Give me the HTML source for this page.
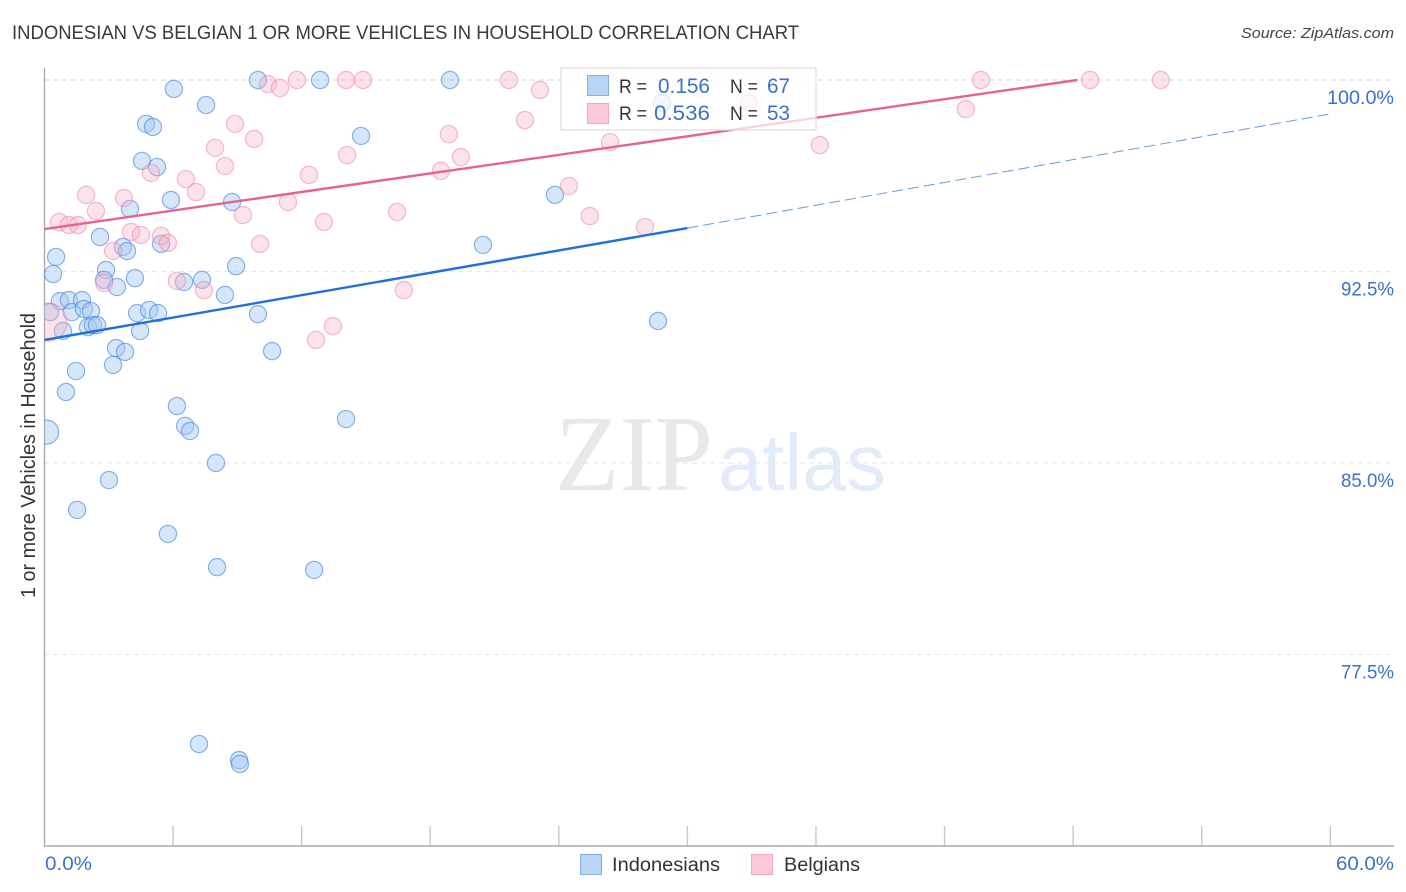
<!DOCTYPE html>
<html lang="en">
<head>
<meta charset="utf-8">
<title>Indonesian vs Belgian chart</title>
<style>
html,body{margin:0;padding:0;background:#fff;}
body{width:1406px;height:892px;overflow:hidden;}
svg{display:block;font-family:"Liberation Sans",sans-serif;}
</style>
</head>
<body>
<svg id="chart" width="1406" height="892" viewBox="0 0 1406 892" xmlns="http://www.w3.org/2000/svg">
  <defs>
    <clipPath id="plot-clip"><rect x="44.5" y="60" width="1350" height="786"/></clipPath>
  </defs>
  <rect x="0" y="0" width="1406" height="892" fill="#ffffff"/>
  <text x="12" y="39" font-size="19" fill="#3a3a3a" textLength="787" lengthAdjust="spacingAndGlyphs">INDONESIAN VS BELGIAN 1 OR MORE VEHICLES IN HOUSEHOLD CORRELATION CHART</text>
  <text x="1241" y="38" font-size="15" font-style="italic" fill="#444" textLength="153" lengthAdjust="spacingAndGlyphs">Source: ZipAtlas.com</text>
  <g>
    <text x="555" y="490" font-family="'Liberation Serif',serif" font-size="108" fill="#e8e8e8" textLength="158" lengthAdjust="spacingAndGlyphs">ZIP</text>
    <text x="718" y="490" font-size="80" fill="#e2ebf9" textLength="168" lengthAdjust="spacingAndGlyphs">atlas</text>
  </g>
  <g id="grid"></g>
  <g id="axes"></g>
  <g id="ylabels"></g>
  <g id="xlabels"></g>
  <g id="blue-points" clip-path="url(#plot-clip)"></g>
  <g id="pink-points" clip-path="url(#plot-clip)"></g>
  <g id="lines"></g>
  <text transform="translate(35,598) rotate(-90)" font-size="20" fill="#333" textLength="285" lengthAdjust="spacingAndGlyphs">1 or more Vehicles in Household</text>
  <g>
    <rect x="561" y="68" width="255" height="62" fill="#ffffff" fill-opacity="0.72" stroke="#dddddd" stroke-width="1.2"/>
    <rect x="587.5" y="75.5" width="21" height="20" fill="#b9d4f7" stroke="#82b0e8" stroke-width="1"/>
    <rect x="587.5" y="103.5" width="21" height="20" fill="#fbc8d8" stroke="#f2a6bf" stroke-width="1"/>
    <text x="619" y="93" font-size="19" fill="#333" textLength="28" lengthAdjust="spacingAndGlyphs">R =</text>
    <text x="658" y="93" font-size="21" fill="#3b6fd1" textLength="52" lengthAdjust="spacingAndGlyphs">0.156</text>
    <text x="730" y="93" font-size="19" fill="#333" textLength="28" lengthAdjust="spacingAndGlyphs">N =</text>
    <text x="767" y="93" font-size="21" fill="#3b6fd1" textLength="23" lengthAdjust="spacingAndGlyphs">67</text>
    <text x="619" y="120" font-size="19" fill="#333" textLength="28" lengthAdjust="spacingAndGlyphs">R =</text>
    <text x="654" y="120" font-size="21" fill="#3b6fd1" textLength="56" lengthAdjust="spacingAndGlyphs">0.536</text>
    <text x="730" y="120" font-size="19" fill="#333" textLength="28" lengthAdjust="spacingAndGlyphs">N =</text>
    <text x="767" y="120" font-size="21" fill="#3b6fd1" textLength="23" lengthAdjust="spacingAndGlyphs">53</text>
  </g>
  <g>
    <rect x="580.5" y="854.5" width="21" height="20" fill="#b9d4f7" stroke="#82b0e8" stroke-width="1"/>
    <text x="612" y="871" font-size="19" fill="#333" textLength="108" lengthAdjust="spacingAndGlyphs">Indonesians</text>
    <rect x="751.5" y="854.5" width="21" height="20" fill="#fbc8d8" stroke="#f2a6bf" stroke-width="1"/>
    <text x="784" y="871" font-size="19" fill="#333" textLength="76" lengthAdjust="spacingAndGlyphs">Belgians</text>
  </g>
</svg>
<script>
var blueX = [6.04,7.54,9.96,12.86,18.92,4.74,5.06,4.55,5.25,5.90,8.75,3.99,2.59,3.66,3.85,5.44,0.54,0.40,2.87,2.78,3.38,4.22,6.51,7.35,8.94,8.42,0.72,1.14,1.75,1.28,1.84,2.17,2.03,2.26,2.45,4.32,4.88,5.30,4.46,0.86,0.26,9.96,10.62,3.34,3.76,3.20,1.47,1.00,6.18,6.56,6.79,14.07,0.10,8.00,3.01,1.52,5.76,8.05,12.58,7.21,9.08,9.12,14.77,23.82,20.46,28.63,28.82];
var blueY = [99.65,99.02,100,100,100,98.28,98.16,96.83,96.59,95.30,95.22,94.95,93.85,93.46,93.30,93.58,93.07,92.40,92.56,92.17,91.89,92.24,92.09,92.17,92.71,91.58,91.34,91.38,91.38,90.91,91.03,90.95,90.32,90.40,90.40,90.87,90.99,90.87,90.17,90.17,90.91,90.83,89.38,89.50,89.35,88.84,88.60,87.78,87.23,86.45,86.25,86.72,86.21,85.00,84.33,83.16,82.22,80.92,80.81,73.99,73.36,73.21,97.81,95.50,93.54,90.56,99.10];
var blueSizes = {52:1.4};
var pinkX = [0.16,10.43,10.99,11.78,14.07,14.86,21.67,43.70,48.79,52.09,23.12,22.42,8.89,9.78,7.96,8.42,4.97,6.60,7.07,1.94,2.40,3.71,0.68,1.14,1.56,4.04,4.50,5.44,5.76,3.20,9.26,10.06,11.36,12.34,14.12,13.04,16.45,18.87,19.43,18.50,24.47,25.45,26.39,28.02,32.87,36.18,42.99,16.77,13.46,12.67,6.18,7.44,2.78];
var pinkY = [90.52,99.84,99.69,100,100,100,100,100,100,100,99.61,98.43,98.28,97.69,97.34,96.63,96.36,96.12,95.61,95.50,94.87,95.38,94.44,94.32,94.32,94.05,93.93,93.89,93.62,93.30,94.71,93.58,95.22,96.28,97.06,94.44,94.83,97.88,96.98,96.44,95.85,94.67,97.57,94.24,99.10,97.45,98.86,91.77,90.36,89.82,92.13,91.77,92.05];
var pinkSizes = {0:2.2};
var blueSolidX = [0,30];
var blueSolidY = [89.82,94.2];
var blueDashX = [30,60];
var blueDashY = [94.2,98.67];
var pinkLineX = [0,48.2];
var pinkLineY = [94.16,100];
var yTicks = [100,92.5,85,77.5];
var yTickLabels = ["100.0%","92.5%","85.0%","77.5%"];
var xTicks = [0,6,12,18,24,30,36,42,48,54,60];
var xEndLabels = ["0.0%","60.0%"];

var NS = "http://www.w3.org/2000/svg";
function sx(v){ return 44.5 + v * 21.43; }
function sy(v){ return 80 + (100 - v) * 25.53; }
function mk(parentId, tag, attrs){
  var el = document.createElementNS(NS, tag);
  for (var k in attrs) el.setAttribute(k, attrs[k]);
  document.getElementById(parentId).appendChild(el);
  return el;
}

yTicks.forEach(function(t, i){
  var g = mk("grid", "line", {x1:44, x2:1394, y1:sy(t), y2:sy(t), stroke: i===0 ? "#d4d4d4" : "#e6e6e6", "stroke-width":1, "stroke-dasharray":"5 4"});
  
  
  var lab = mk("ylabels", "text", {x:1394, y:sy(t)+24, "text-anchor":"end", "font-size":19, fill:"#3b6fd1"});
  
  
  lab.textContent = yTickLabels[i];
  lab.setAttribute("textLength", i===0 ? 67 : 53);
  lab.setAttribute("lengthAdjust", "spacingAndGlyphs");
});

xTicks.forEach(function(t){
  if (t === 0) return;
  var tk = mk("axes", "line", {x1:sx(t), x2:sx(t), y1:826, y2:846, stroke:"#c8c8c8", "stroke-width":1.4});
  
  
});
var ya = mk("axes", "line", {x1:44.5, x2:44.5, y1:68, y2:846, stroke:"#aaaaaa", "stroke-width":1.4});


var xa = mk("axes", "line", {x1:44, x2:1394, y1:846, y2:846, stroke:"#aaaaaa", "stroke-width":1.4});



var x0 = mk("xlabels", "text", {x:45, y:870, "font-size":19, fill:"#3b6fd1", textLength:47, lengthAdjust:"spacingAndGlyphs"});


x0.textContent = xEndLabels[0];
var x1 = mk("xlabels", "text", {x:1336, y:870, "font-size":19, fill:"#3b6fd1", textLength:58, lengthAdjust:"spacingAndGlyphs"});


x1.textContent = xEndLabels[1];

blueX.forEach(function(v, i){
  var s = blueSizes[i] || 1;
  var c = mk("blue-points", "circle", {cx:sx(v), cy:sy(blueY[i]), r:8.6*s, fill:"#a6c8f2", "fill-opacity":0.46, stroke:"#3f84de", "stroke-opacity":0.6, "stroke-width":1.2});
  
  
});
pinkX.forEach(function(v, i){
  var s = pinkSizes[i] || 1;
  var c = mk("pink-points", "circle", {cx:sx(v), cy:sy(pinkY[i]), r:8.6*s, fill:"#f8b4c9", "fill-opacity":0.38, stroke:"#ec7ca0", "stroke-opacity":0.5, "stroke-width":1.2});
  
  
});

var l1 = mk("lines", "line", {x1:sx(blueSolidX[0]), y1:sy(blueSolidY[0]), x2:sx(blueSolidX[1]), y2:sy(blueSolidY[1]), stroke:"#1f6fdc", "stroke-width":2.4});


var l2 = mk("lines", "line", {x1:sx(blueDashX[0]), y1:sy(blueDashY[0]), x2:sx(blueDashX[1]), y2:sy(blueDashY[1]), stroke:"#6a9ade", "stroke-width":1, "stroke-dasharray":"11 5"});


var l3 = mk("lines", "line", {x1:sx(pinkLineX[0]), y1:sy(pinkLineY[0]), x2:sx(pinkLineX[1]), y2:sy(pinkLineY[1]), stroke:"#e8628f", "stroke-width":2.4});


</script>
</body>
</html>
